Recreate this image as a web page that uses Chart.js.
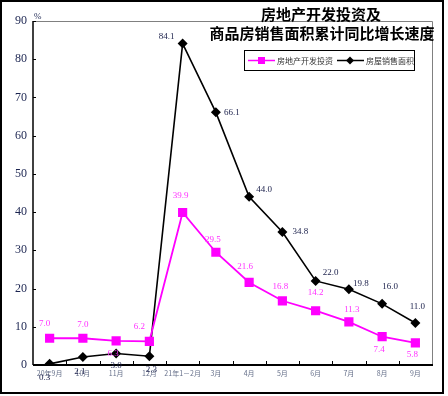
<!DOCTYPE html>
<html>
<head>
<meta charset="utf-8">
<script src="https://cdn.jsdelivr.net/npm/chart.js@4/dist/chart.umd.min.js"></script>
<style>
  html, body { margin: 0; padding: 0; background: #fff; }
  #wrap { width: 448px; height: 396px; position: relative; }
</style>
</head>
<body>
<div id="wrap"><canvas id="graph" width="448" height="396"></canvas></div>
<script>
const months = ['20年9月', '10月', '11月', '12月', '21年1－2月', '3月', '4月', '5月', '6月', '7月', '8月', '9月'];
const investment = [7.0, 7.0, 6.3, 6.2, 39.9, 29.5, 21.6, 16.8, 14.2, 11.3, 7.4, 5.8];
const salesArea = [0.3, 2.1, 3.0, 2.3, 84.1, 66.1, 44.0, 34.8, 22.0, 19.8, 16.0, 11.0];
const yTicks = [0, 10, 20, 30, 40, 50, 60, 70, 80, 90];

// where each value label sits relative to its point (dx, dy)
const investLabelPos = [[-5, -15], [0, -14], [-3, 13], [-10, -15], [-2, -17], [-3, -13],
    [-4, -16], [-2, -14], [0, -18], [3, -12], [-3, 13], [-3, 12]];
const salesLabelPos = [[-5, 14], [-3, 15], [0, 12], [2, 13], [-16, -7], [16, 0],
    [15, -7], [18, 0], [15, -8], [12, -6], [8, -17], [2, -16]];

const CJK = '"Noto Sans CJK SC", sans-serif';
const SERIF = '"Liberation Serif", "DejaVu Serif", serif';

const decor = {
    id: 'decor',
    afterDatasetsDraw(chart) {
        const ctx = chart.ctx;
        const a = chart.chartArea;
        const xs = chart.scales.x, ys = chart.scales.y;
        ctx.save();
        // plot frame: grey top/right, black axes
        ctx.strokeStyle = '#808080';
        ctx.lineWidth = 1;
        ctx.beginPath();
        ctx.moveTo(a.left, a.top + 0.5);
        ctx.lineTo(a.right + 0.5, a.top + 0.5);
        ctx.lineTo(a.right + 0.5, a.bottom);
        ctx.stroke();
        ctx.strokeStyle = '#000';
        ctx.lineWidth = 1.5;
        ctx.beginPath();
        ctx.moveTo(a.left, a.top);
        ctx.lineTo(a.left, a.bottom);
        ctx.stroke();
        ctx.lineWidth = 2;
        ctx.beginPath();
        ctx.moveTo(a.left, a.bottom);
        ctx.lineTo(a.right + 1, a.bottom);
        ctx.stroke();
        // inner tick marks
        ctx.lineWidth = 1;
        yTicks.forEach(v => {
            const y = Math.round(ys.getPixelForValue(v)) + 0.5;
            ctx.beginPath();
            ctx.moveTo(a.left, y);
            ctx.lineTo(a.left + 3, y);
            ctx.stroke();
        });
        for (let i = 1; i < months.length; i++) {
            const x = Math.round((xs.getPixelForValue(i - 1) + xs.getPixelForValue(i)) / 2) + 0.5;
            ctx.beginPath();
            ctx.moveTo(x, a.bottom);
            ctx.lineTo(x, a.bottom - 4);
            ctx.stroke();
        }
        // % unit
        ctx.fillStyle = '#1b2450';
        ctx.font = '9px ' + SERIF;
        ctx.textAlign = 'left';
        ctx.textBaseline = 'middle';
        ctx.fillText('%', a.left + 1, a.top - 4);

        // value labels
        ctx.font = '9px ' + SERIF;
        ctx.textAlign = 'center';
        const m0 = chart.getDatasetMeta(0), m1 = chart.getDatasetMeta(1);
        m0.data.forEach((p, i) => {
            ctx.fillStyle = '#ff33ff';
            ctx.fillText(investment[i].toFixed(1), p.x + investLabelPos[i][0], p.y + investLabelPos[i][1]);
        });
        m1.data.forEach((p, i) => {
            ctx.fillStyle = '#1a1f4a';
            ctx.fillText(salesArea[i].toFixed(1), p.x + salesLabelPos[i][0], p.y + salesLabelPos[i][1]);
        });

        // title
        ctx.fillStyle = '#000';
        ctx.font = 'bold 15px ' + CJK;
        ctx.fillText('房地产开发投资及', 321, 14);
        ctx.fillText('商品房销售面积累计同比增长速度', 322, 33);

        // legend box
        ctx.fillStyle = '#fff';
        ctx.fillRect(244, 50, 171, 20);
        ctx.strokeStyle = '#000';
        ctx.lineWidth = 1;
        ctx.strokeRect(244.5, 50.5, 170, 20);
        const ly = 60.5;
        ctx.strokeStyle = '#ff00ff';
        ctx.lineWidth = 1.5;
        ctx.beginPath(); ctx.moveTo(248, ly); ctx.lineTo(275, ly); ctx.stroke();
        ctx.fillStyle = '#ff00ff';
        ctx.fillRect(258, ly - 3.5, 7, 7);
        ctx.strokeStyle = '#000';
        ctx.beginPath(); ctx.moveTo(337, ly); ctx.lineTo(364, ly); ctx.stroke();
        ctx.fillStyle = '#000';
        ctx.beginPath();
        ctx.moveTo(350, ly - 4); ctx.lineTo(354, ly); ctx.lineTo(350, ly + 4); ctx.lineTo(346, ly);
        ctx.closePath(); ctx.fill();
        ctx.fillStyle = '#333';
        ctx.font = '8px ' + CJK;
        ctx.textAlign = 'left';
        ctx.fillText('房地产开发投资', 277, ly);
        ctx.fillText('房屋销售面积', 366, ly);

        // outer frame
        ctx.strokeStyle = '#000';
        ctx.lineWidth = 2;
        ctx.strokeRect(1, 1, 442, 392);
        ctx.restore();
    }
};

window.addEventListener('DOMContentLoaded', () => {
    const graph = document.getElementById('graph');
    new Chart(graph, {
        type: 'line',
        data: {
            labels: months,
            datasets: [{
                label: '房地产开发投资',
                data: investment,
                borderColor: '#ff00ff',
                backgroundColor: '#ff00ff',
                borderWidth: 1.8,
                pointStyle: 'rect',
                pointRadius: 6.5,
                pointBorderWidth: 0,
                tension: 0
            }, {
                label: '房屋销售面积',
                data: salesArea,
                borderColor: '#000',
                backgroundColor: '#000',
                borderWidth: 1.6,
                pointStyle: 'rectRot',
                pointRadius: 5,
                pointBorderWidth: 0,
                tension: 0
            }]
        },
        options: {
            responsive: false,
            animation: false,
            layout: {padding: {left: 0, right: 16, top: 21, bottom: 0}},
            plugins: {
                legend: {display: false},
                tooltip: {enabled: false}
            },
            scales: {
                x: {
                    offset: true,
                    grid: {display: false, drawTicks: false},
                    border: {display: false},
                    ticks: {
                        color: '#66708a',
                        font: {size: 7, family: CJK},
                        padding: 4,
                        maxRotation: 0,
                        autoSkip: false
                    },
                    afterFit: (s) => { s.height = 31; }
                },
                y: {
                    min: 0,
                    max: 90,
                    grid: {display: false, drawTicks: false},
                    border: {display: false},
                    ticks: {
                        stepSize: 10,
                        color: '#1b2450',
                        font: {size: 12, family: SERIF},
                        padding: 6
                    },
                    afterFit: (s) => { s.width = 33; }
                }
            }
        },
        plugins: [decor]
    });
});
</script>
</body>
</html>
